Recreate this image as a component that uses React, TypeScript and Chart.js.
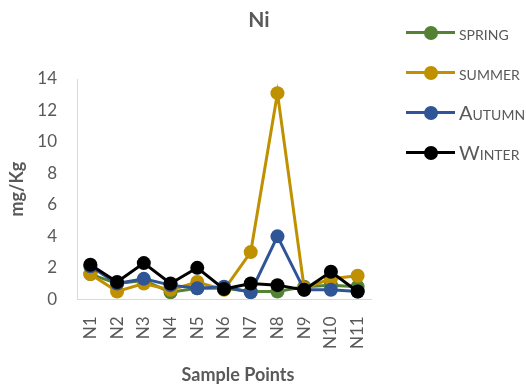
import React, { useEffect, useRef } from "react";
import { Chart, registerables } from "chart.js";

Chart.register(...registerables);

// Sample points along the x axis
const samplePoints = ["N1", "N2", "N3", "N4", "N5", "N6", "N7", "N8", "N9", "N10", "N11"];

// Ni concentration (mg/Kg) per season
const spring = [1.6, 1.0, 1.2, 0.45, 0.7, 0.7, 0.5, 0.5, 0.8, 0.9, 0.8];
const summer = [1.6, 0.5, 1.0, 0.6, 1.1, 0.6, 3.0, 13.1, 0.7, 1.3, 1.5];
const autumn = [2.1, 1.0, 1.3, 0.9, 0.7, 0.8, 0.45, 4.0, 0.6, 0.6, 0.5];
const winter = [2.2, 1.1, 2.3, 1.0, 2.0, 0.65, 1.0, 0.9, 0.6, 1.75, 0.5];

const yTicks = [0, 2, 4, 6, 8, 10, 12, 14];

const seasons = [
  { label: "spring", data: spring, color: "#548235", order: 4 },
  { label: "summer", data: summer, color: "#BF9000", order: 3 },
  { label: "Autumn", data: autumn, color: "#2F5597", order: 2 },
  { label: "Winter", data: winter, color: "#000000", order: 1 },
];

const FONT = "Lato, 'Open Sans', sans-serif";
const GREY = "#595959";

export default function App() {
  const canvasRef = useRef<HTMLCanvasElement | null>(null);

  useEffect(() => {
    const ctx = canvasRef.current;
    if (!ctx) return;
    const chart = new Chart(ctx, {
      type: "line",
      data: {
        labels: samplePoints,
        datasets: seasons.map((s) => ({
          label: s.label,
          data: s.data,
          borderColor: s.color,
          backgroundColor: s.color,
          pointBackgroundColor: s.color,
          pointBorderColor: s.color,
          borderWidth: 3,
          pointRadius: 7,
          pointBorderWidth: 0,
          tension: 0,
          order: s.order,
        })),
      },
      options: {
        animation: false,
        responsive: false,
        maintainAspectRatio: false,
        layout: { padding: { left: 0, top: 79, right: 155, bottom: 19 } },
        plugins: {
          legend: { display: false },
          title: { display: false },
          tooltip: { enabled: false },
        },
        scales: {
          x: {
            offset: true,
            grid: { display: false, drawTicks: false },
            border: { display: true, color: "#D9D9D9", width: 1 },
            ticks: {
              color: GREY,
              font: { family: FONT, size: 17 },
              minRotation: 90,
              maxRotation: 90,
              padding: 17,
            },
          },
          y: {
            min: 0,
            max: 14,
            afterBuildTicks: (axis: any) => {
              axis.ticks = yTicks.map((v) => ({ value: v }));
            },
            // fixed axis band: title + labels + gap
            afterFit: (axis: any) => {
              axis.width = 77;
            },
            grid: { display: false, drawTicks: false },
            border: { display: true, color: "#D9D9D9", width: 1 },
            ticks: {
              color: GREY,
              font: { family: FONT, size: 17 },
              padding: 20,
            },
            title: {
              display: true,
              text: "mg/Kg",
              color: GREY,
              font: { family: FONT, size: 18, weight: "bold" },
              padding: { top: 6, bottom: 0 },
            },
          },
        },
      },
    });
    return () => chart.destroy();
  }, []);

  return (
    <div style={{ position: "absolute", left: 0, top: 0, width: 526, height: 385, background: "#fff", fontFamily: FONT }}>
      <canvas ref={canvasRef} width={526} height={385} style={{ position: "absolute", left: 0, top: 0 }} />
      <div
        style={{
          position: "absolute",
          left: 259,
          top: 6,
          transform: "translateX(-50%)",
          fontSize: 21,
          fontWeight: "bold",
          color: GREY,
        }}
      >
        Ni
      </div>
      <div
        style={{
          position: "absolute",
          left: 238,
          top: 363,
          transform: "translateX(-50%)",
          fontSize: 18,
          fontWeight: "bold",
          color: GREY,
          whiteSpace: "nowrap",
        }}
      >
        Sample Points
      </div>
      {seasons.map((s, i) => (
        <div key={s.label} style={{ position: "absolute", left: 406, top: 32 + i * 40 - 12, height: 24, display: "flex", alignItems: "center" }}>
          <div style={{ position: "relative", width: 49, height: 24 }}>
            <div style={{ position: "absolute", left: 0, top: 10.5, width: 49, height: 3, background: s.color }} />
            <div style={{ position: "absolute", left: 18, top: 5.5, width: 14, height: 14, borderRadius: "50%", background: s.color }} />
          </div>
          <span style={{ marginLeft: 4, fontSize: 20, fontVariant: "small-caps", color: GREY, lineHeight: "24px", whiteSpace: "nowrap" }}>
            {s.label}
          </span>
        </div>
      ))}
    </div>
  );
}
